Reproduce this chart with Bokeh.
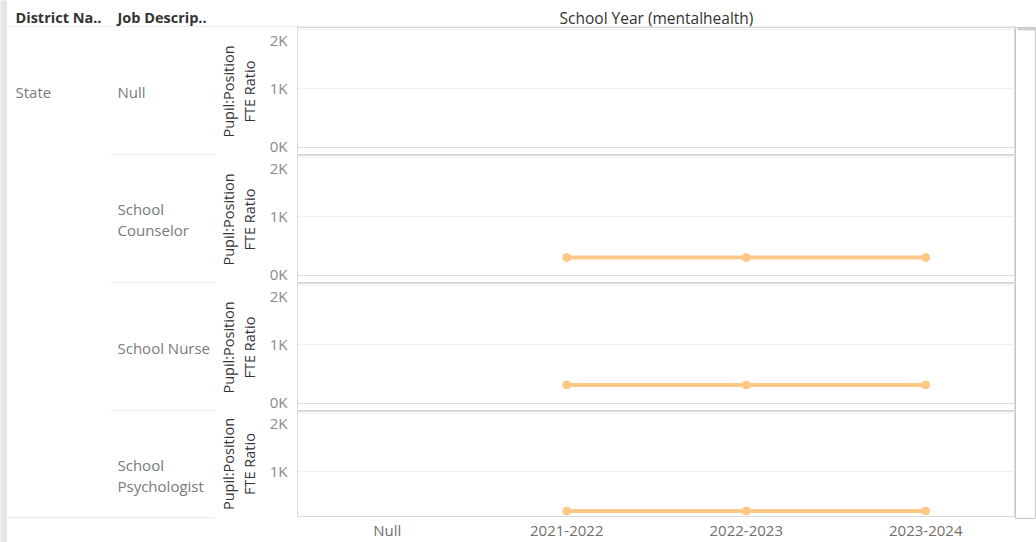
from bokeh.plotting import figure
from bokeh.layouts import column, row
from bokeh.models import Range1d, FactorRange, FixedTicker, Span, CustomJSTickFormatter
from bokeh.core.properties import value
from bokeh.embed import file_html
from bokeh.resources import INLINE

# ---------------- data ----------------
header_district = "District Na.."
header_job = "Job Descrip.."
header_columns = "School Year (mentalhealth)"
y_title = "Pupil:Position\nFTE Ratio"

district_names = ["State"]
job_descriptions = ["Null", "School\nCounselor", "School Nurse", "School\nPsychologist"]
school_years = ["Null", "2021-2022", "2022-2023", "2023-2024"]
series_years = ["2021-2022", "2022-2023", "2023-2024"]
counselor_ratio = [305, 305, 305]
nurse_ratio = [315, 315, 315]
psychologist_ratio = [315, 315, 315]
row_series = [None, counselor_ratio, nurse_ratio, psychologist_ratio]
# Tableau pushes the top "2K" label inside the pane; its label sits just below the 2K gridline
y_label_ticks = [0, 1000, 1830]
grid_ticks = [1000, 2000]

# ---------------- style ----------------
FONT = "Open Sans"
ORANGE = "#ffc886"
BORDER = "#d9d9d9"
LABEL_COL = "#7a7a7a"
STRIP_W = 7
HEADER_H = 27
ROW_H = 128
LAST_H = 107
AXIS_H = 24
LABEL_W = 208
PLOT_W = 800
SB_W = 21
Y_PER_PX = 2170 / ROW_H  # data units per pixel

def base_fig(w, h, xr, yr, **kw):
    f = figure(width=w, height=h, x_range=xr, y_range=yr, output_backend="svg",
               toolbar_location=None, min_border=0, **kw)
    f.background_fill_color = "white"
    f.border_fill_color = "white"
    return f

TOTAL_H = HEADER_H + 3 * ROW_H + LAST_H + AXIS_H
INNER_W = LABEL_W + PLOT_W + SB_W

# grey strip on the left
strip = base_fig(STRIP_W, TOTAL_H, Range1d(0, 1), Range1d(0, 1),
                 x_axis_location=None, y_axis_location=None)
strip.grid.visible = False
strip.outline_line_color = None
strip.background_fill_color = "#e6e6e6"
strip.border_fill_color = "#e6e6e6"

# header
hf = base_fig(INNER_W, HEADER_H, Range1d(0, INNER_W), Range1d(0, HEADER_H),
              x_axis_location=None, y_axis_location=None)
hf.grid.visible = False
hf.outline_line_color = None
hf.text(x=[8, 110], y=[10, 10], text=[header_district, header_job],
        text_font=value(FONT), text_font_size="14.5px", text_font_style="bold",
        text_color="#333333", text_baseline="middle", text_align="left")
hf.text(x=[LABEL_W + 82 + (PLOT_W - 82) / 2], y=[10], text=[header_columns],
        text_font=value(FONT), text_font_size="15.5px", text_color="#333333",
        text_baseline="middle", text_align="center")
hf.segment(x0=[0], y0=[0.5], x1=[LABEL_W + PLOT_W], y1=[0.5], line_color=BORDER, line_width=1)

label_figs = []
plot_figs = []
n = len(job_descriptions)
for i in range(n):
    last = i == n - 1
    fh = LAST_H if last else ROW_H
    h = fh + (AXIS_H if last else 0)

    # ---- label figure ----
    lf = base_fig(LABEL_W, h, Range1d(0, LABEL_W), Range1d(0, fh),
                  x_axis_location=None, y_axis_location=None,
                  min_border_bottom=AXIS_H if last else 0)
    lf.grid.visible = False
    lf.outline_line_color = None
    cy = (fh - ROW_H / 2) if last else fh / 2
    if i == 0:
        lf.text(x=[8], y=[cy], text=[district_names[0]], text_font=value(FONT),
                text_font_size="15px", text_color=LABEL_COL, text_baseline="middle",
                text_align="left")
    lf.text(x=[110], y=[cy], text=[job_descriptions[i]], text_font=value(FONT),
            text_font_size="15px", text_color=LABEL_COL, text_baseline="middle",
            text_align="left", text_line_height=1.05)
    lf.segment(x0=[0 if last else 103], y0=[0.5], x1=[LABEL_W], y1=[0.5],
               line_color=BORDER, line_width=1)
    label_figs.append(lf)

    # ---- plot figure ----
    top = 2034
    bottom = top - fh * Y_PER_PX
    p = base_fig(PLOT_W, h, FactorRange(*school_years), Range1d(bottom, top),
                 x_axis_location="below" if last else None,
                 min_border_left=82, min_border_bottom=AXIS_H if last else 0)
    p.outline_line_color = BORDER
    p.xgrid.visible = False
    p.ygrid.ticker = FixedTicker(ticks=grid_ticks)
    p.ygrid.grid_line_color = "#f0f0f0"
    p.yaxis.ticker = FixedTicker(ticks=y_label_ticks)
    p.yaxis.formatter = CustomJSTickFormatter(code="return Math.round(tick/1000) + 'K'")
    p.yaxis.axis_label = y_title
    p.yaxis.axis_label_text_font = FONT
    p.yaxis.axis_label_text_font_size = "14.5px"
    p.yaxis.axis_label_text_font_style = "normal"
    p.yaxis.axis_label_text_color = "#333333"
    p.yaxis.axis_label_text_line_height = 1.1
    p.yaxis.axis_label_standoff = 8
    p.yaxis.major_label_text_font = FONT
    p.yaxis.major_label_text_font_size = "15px"
    p.yaxis.major_label_text_color = "#8a8a8a"
    p.yaxis.major_label_standoff = 10
    p.yaxis.major_tick_out = 0
    p.yaxis.major_tick_in = 0
    p.yaxis.axis_line_color = BORDER
    p.yaxis.major_tick_line_color = None
    p.yaxis.minor_tick_line_color = None
    if last:
        p.xaxis.major_label_text_font = FONT
        p.xaxis.major_label_text_font_size = "15px"
        p.xaxis.major_label_text_color = "#6f6f6f"
        p.xaxis.major_label_standoff = 3
        p.xaxis.major_tick_out = 0
        p.xaxis.major_tick_in = 0
        p.xaxis.axis_line_color = BORDER
        p.xaxis.major_tick_line_color = None
    p.add_layout(Span(location=0, dimension="width", line_color="#c8c8c8",
                      line_dash="2 1", line_width=1))
    vals = row_series[i]
    if vals is not None:
        p.line(series_years, vals, line_width=4, line_color=ORANGE)
        p.scatter(series_years, vals, size=8, fill_color=ORANGE, line_color=ORANGE)
    plot_figs.append(p)

# scrollbar
SB_FRAME = 3 * ROW_H + LAST_H
sb = base_fig(SB_W, SB_FRAME + AXIS_H, Range1d(0, SB_W), Range1d(0, SB_FRAME),
              x_axis_location=None, y_axis_location=None, min_border_bottom=AXIS_H)
sb.grid.visible = False
sb.outline_line_color = "#c8c8c8"
sb.quad(left=[2], right=[SB_W], bottom=[SB_FRAME - 3], top=[SB_FRAME],
        fill_color="#d0d0d0", line_color=None)

body = row(column(*label_figs, spacing=0), column(*plot_figs, spacing=0), sb, spacing=0)
layout = row(strip, column(hf, body, spacing=0), spacing=0)

open("out.html", "w").write(file_html(layout, INLINE))
